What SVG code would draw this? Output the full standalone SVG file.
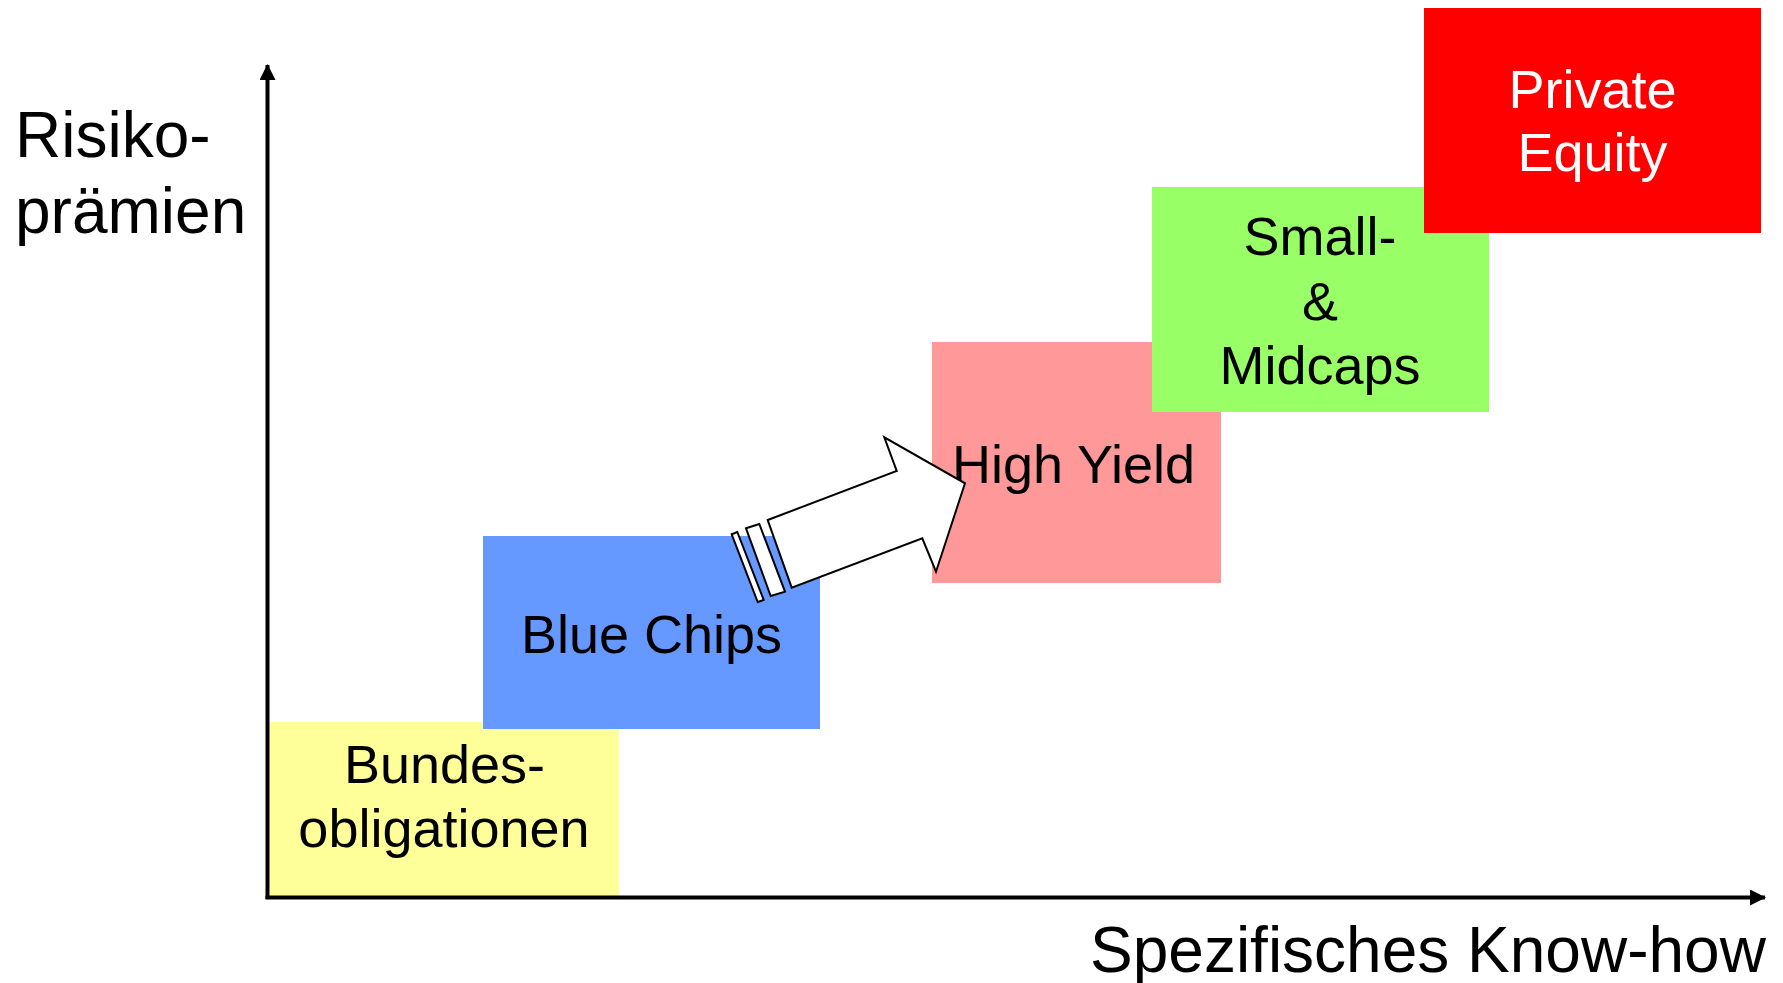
<svg xmlns="http://www.w3.org/2000/svg" width="1783" height="983" viewBox="0 0 1783 983">
  <defs>
    <style>
      .lbl { font-family: "Liberation Sans", Arial, sans-serif; font-size: 54px; fill: #000; text-anchor: middle; }
      .lbl-inv { fill: #fff; }
      .axis-lbl { font-family: "Liberation Sans", Arial, sans-serif; font-size: 64px; fill: #000; }
      .axis { stroke: #000; stroke-width: 4; fill: none; }
      .block { fill: #fff; stroke: #000; stroke-width: 2; stroke-linejoin: miter; }
    </style>
    <marker id="axhead" viewBox="0 0 16 16" refX="15" refY="8" markerWidth="16" markerHeight="16" markerUnits="userSpaceOnUse" orient="auto">
      <path d="M0,0 L16,8 L0,16 Z" fill="#000"/>
    </marker>
  </defs>

  <rect x="0" y="0" width="1783" height="983" fill="#fff"/>

  <!-- asset classes, rising in risk premium and required know-how -->
  <g id="bundesobligationen">
    <rect x="270" y="722" width="349" height="175" fill="#FFFF99"/>
    <text class="lbl" x="444.5" y="783">Bundes-</text>
    <text class="lbl" x="444" y="847">obligationen</text>
  </g>

  <g id="blue-chips">
    <rect x="483" y="536" width="337" height="193" fill="#6699FF"/>
    <text class="lbl" x="651.5" y="653">Blue Chips</text>
  </g>

  <g id="high-yield">
    <rect x="932" y="342" width="289" height="241" fill="#FF9999"/>
    <text class="lbl" x="1073.5" y="483">High Yield</text>
  </g>

  <g id="small-midcaps">
    <rect x="1152" y="187" width="337" height="225" fill="#99FF66"/>
    <text class="lbl" x="1320" y="255">Small-</text>
    <text class="lbl" x="1320" y="319.5">&amp;</text>
    <text class="lbl" x="1320" y="384">Midcaps</text>
  </g>

  <g id="private-equity">
    <rect x="1424" y="8" width="337" height="225" fill="#FF0000"/>
    <text class="lbl lbl-inv" x="1592.5" y="108">Private</text>
    <text class="lbl lbl-inv" x="1592.5" y="171">Equity</text>
  </g>

  <!-- axes and the striped block arrow -->
  <g id="connectors">
    <line class="axis" x1="267.5" y1="899" x2="267.5" y2="65" marker-end="url(#axhead)"/>
    <line class="axis" x1="265.5" y1="897.5" x2="1765" y2="897.5" marker-end="url(#axhead)"/>

    <g id="progress-arrow">
      <polygon class="block" points="767.7,520 896.7,471 884.3,437.3 965,483.3 936,571.7 922.3,538.3 791.7,587.7"/>
      <polygon class="block" points="746,528.3 759.3,524 785,591.7 770.7,596"/>
      <polygon class="block" points="731.7,534.3 737.3,532 763.7,600 757.7,602"/>
    </g>
  </g>

  <g id="axis-labels">
    <text class="axis-lbl" x="15" y="157">Risiko-</text>
    <text class="axis-lbl" x="15" y="233">prämien</text>
    <text class="axis-lbl" x="1090" y="972">Spezifisches Know-how</text>
  </g>
</svg>
